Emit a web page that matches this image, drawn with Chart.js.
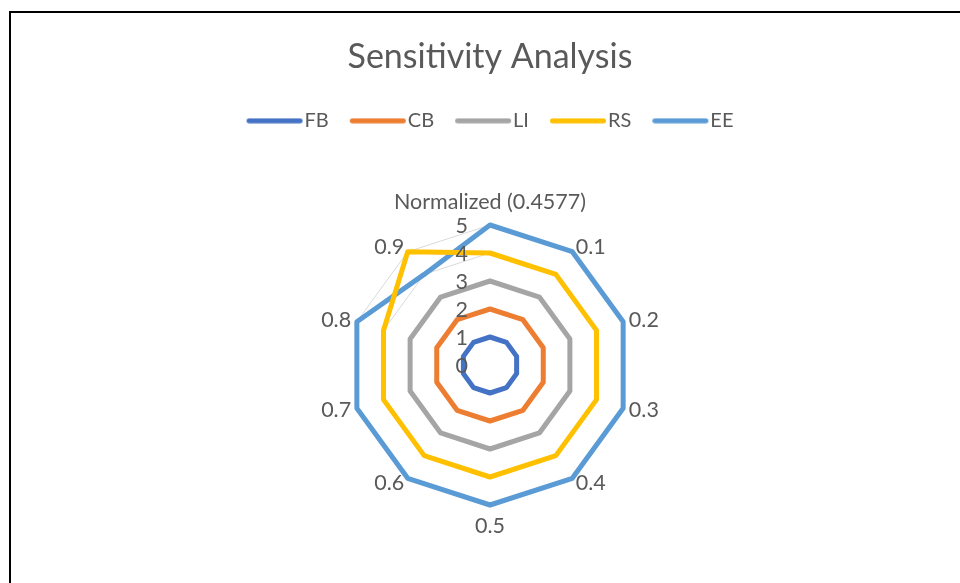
<!DOCTYPE html>
<html>
<head>
<meta charset="utf-8">
<script src="https://cdn.jsdelivr.net/npm/chart.js@4.4.1/dist/chart.umd.min.js"></script>
<style>
  html, body { margin: 0; padding: 0; background: #ffffff; overflow: hidden; }
  #wrap { position: relative; width: 960px; height: 583px; }
  #frame { position: absolute; left: 9px; top: 11px; width: 1000px; height: 1000px; border: 2px solid #000; box-sizing: border-box; pointer-events: none; }
  canvas { position: absolute; left: 0; top: 0; }
</style>
</head>
<body>
<div id="wrap">
  <canvas id="c" width="960" height="583"></canvas>
  <div id="frame"></div>
</div>
<script>
const categories = ['Normalized (0.4577)', '0.1', '0.2', '0.3', '0.4', '0.5', '0.6', '0.7', '0.8', '0.9'];
const seriesNames = ['FB', 'CB', 'LI', 'RS', 'EE'];
const FB = [1, 1, 1, 1, 1, 1, 1, 1, 1, 1];
const CB = [2, 2, 2, 2, 2, 2, 2, 2, 2, 2];
const LI = [3, 3, 3, 3, 3, 3, 3, 3, 3, 3];
const RS = [4, 4, 4, 4, 4, 4, 4, 4, 4, 5];
const EE = [5, 5, 5, 5, 5, 5, 5, 5, 5, 4];
const tickValues = [0, 1, 2, 3, 4, 5];
const colors = ['#4472C4', '#ED7D31', '#A5A5A5', '#FFC000', '#5B9BD5'];

const FONT = 'Lato, "Open Sans", sans-serif';
const TXT = '#595959';
const LABEL_SIZE = 21.5;

// legend swatch: a rounded line drawn on a small canvas (line sits left of the image centre)
function swatch(color) {
  const c = document.createElement('canvas');
  c.width = 112; c.height = 6;
  const g = c.getContext('2d');
  g.strokeStyle = color; g.lineWidth = 5; g.lineCap = 'round';
  g.beginPath(); g.moveTo(34.5, 3); g.lineTo(85.5, 3); g.stroke();
  return c;
}

const labelPlugin = {
  id: 'excelLabels',
  afterDatasetsDraw(chart) {
    const s = chart.scales.r;
    const ctx = chart.ctx;
    ctx.save();
    ctx.font = LABEL_SIZE + 'px ' + FONT;
    ctx.fillStyle = TXT;
    ctx.textBaseline = 'middle';
    // value ticks, left of the first axis
    ctx.textAlign = 'right';
    tickValues.forEach(v => {
      const p = s.getPointPositionForValue(0, v);
      ctx.fillText(String(v), p.x - 22, p.y + 1);
    });
    // category labels
    const n = categories.length;
    categories.forEach((lab, i) => {
      const p = s.getPointPosition(i, s.drawingArea + 6);
      const ang = i * 2 * Math.PI / n;
      const sn = Math.sin(ang), cs = Math.cos(ang);
      let x = p.x, y = p.y;
      if (Math.abs(sn) < 1e-6) {
        ctx.textAlign = 'center';
        y += cs > 0 ? -17 : 15;
      } else {
        ctx.textAlign = sn > 0 ? 'left' : 'right';
      }
      ctx.fillText(lab, x, y);
    });
    ctx.restore();
  }
};

const allSeries = [FB, CB, LI, RS, EE];
new Chart(document.getElementById('c'), {
  type: 'radar',
  data: {
    labels: categories,
    datasets: allSeries.map((d, i) => ({
      label: seriesNames[i],
      data: d,
      borderColor: colors[i],
      backgroundColor: colors[i],
      borderWidth: 5,
      borderJoinStyle: 'round',
      pointRadius: 0,
      pointHoverRadius: 0,
      pointStyle: swatch(colors[i]),
      fill: false,
      tension: 0
    }))
  },
  options: {
    responsive: false,
    animation: false,
    events: [],
    layout: { padding: { top: 0, bottom: 77, left: 20, right: 0 } },
    plugins: {
      title: {
        display: true,
        text: 'Sensitivity Analysis',
        color: TXT,
        font: { family: FONT, size: 34, weight: 'normal' },
        padding: { top: 37, bottom: 12 }
      },
      legend: {
        display: true,
        position: 'top',
        labels: {
          usePointStyle: true,
          pointStyleWidth: 48,
          boxHeight: 16,
          color: TXT,
          font: { family: FONT, size: 20 },
          padding: 21
        }
      },
      subtitle: {
        display: true,
        position: 'top',
        weight: 500,
        text: '',
        font: { size: 10 },
        padding: { top: 0, bottom: 73 }
      },
      tooltip: { enabled: false }
    },
    scales: {
      r: {
        min: 0,
        max: 5,
        beginAtZero: true,
        ticks: { display: false, stepSize: 1 },
        grid: { color: '#D9D9D9', lineWidth: 1, circular: false },
        angleLines: { display: false },
        pointLabels: { display: false }
      }
    }
  },
  plugins: [labelPlugin]
});
</script>
</body>
</html>
